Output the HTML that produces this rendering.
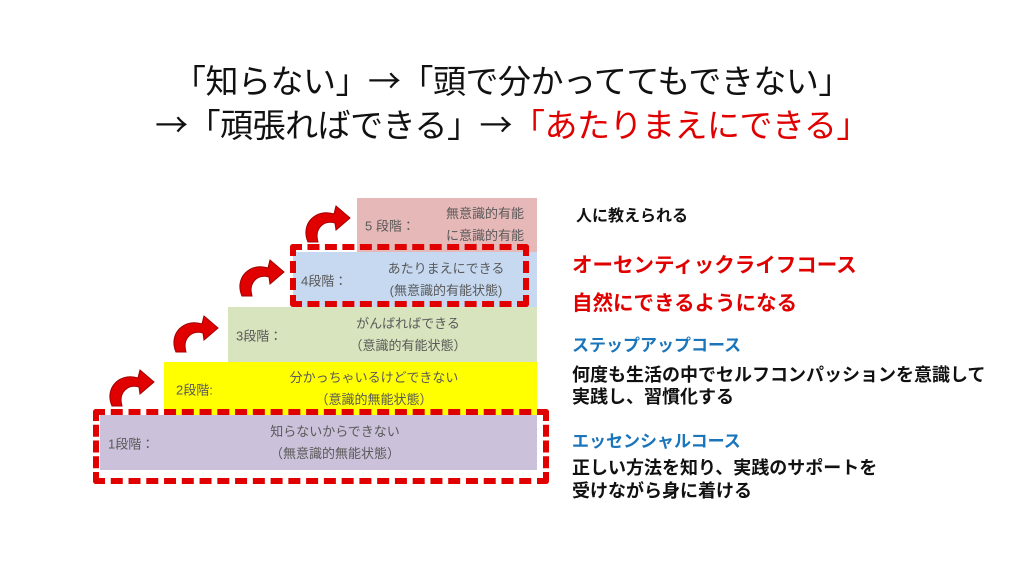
<!DOCTYPE html>
<html><head><meta charset="utf-8"><style>
body{margin:0;width:1024px;height:576px;background:#fff;position:relative;overflow:hidden;font-family:"Liberation Sans","Noto Sans CJK JP",sans-serif}
.a{position:absolute;white-space:nowrap}
.t{font-size:33px;color:#111;left:0;width:1024px;text-align:center;font-family:"Noto Sans CJK JP",sans-serif;letter-spacing:-0.5px}
.box{position:absolute;font-size:13px;color:#595959}
.box .l{position:absolute;top:50%;transform:translateY(-50%)}
.box .c{position:absolute;top:50%;transform:translateY(-50%);text-align:center;line-height:22px}
.d{position:absolute;border:6px dashed #e00000;box-sizing:border-box;border-radius:3px}
.r{font-weight:bold}
</style></head><body>
<div class="a t" style="top:55px">「知らない」→「頭で分かっててもできない」</div>
<div class="a t" style="top:99px">→「頑張ればできる」→<span style="color:#e00000">「あたりまえにできる」</span></div>

<div class="box" style="left:357px;top:198px;width:180px;height:54px;background:#e6b9b8"><span class="l" style="left:8px">5 段階：</span><span class="c" style="left:76px;width:104px">無意識的有能<br>に意識的有能</span></div>
<div class="box" style="left:293px;top:252px;width:244px;height:55px;background:#c6d9f1"><span class="l" style="left:8px">4段階：</span><span class="c" style="left:78px;width:150px">あたりまえにできる<br>(無意識的有能状態)</span></div>
<div class="box" style="left:228px;top:307px;width:309px;height:55px;background:#d7e4bd"><span class="l" style="left:8px">3段階：</span><span class="c" style="left:100px;width:160px">がんばればできる<br>（意識的有能状態）</span></div>
<div class="box" style="left:164px;top:362px;width:373px;height:53px;background:#ffff00"><span class="l" style="left:12px">2段階:</span><span class="c" style="left:105px;width:210px">分かっちゃいるけどできない<br>（意識的無能状態）</span></div>
<div class="box" style="left:100px;top:415px;width:437px;height:55px;background:#ccc1da"><span class="l" style="left:8px">1段階：</span><span class="c" style="left:150px;width:170px">知らないからできない<br>（無意識的無能状態）</span></div>

<div class="d" style="left:290px;top:244px;width:239px;height:63px"></div>
<div class="d" style="left:93px;top:409px;width:456px;height:75px"></div>

<svg width="1024" height="576" style="position:absolute;left:0;top:0">
<defs><path id="ar" d="M2,30 C-6,12 10,-4 28,2 L30,-6 L44,6 L30,18 L29,11 C18,8 8,16 12,30 Z" fill="#e00000" stroke="#a00000" stroke-width="1"/></defs>
<use href="#ar" x="306" y="212"/>
<use href="#ar" x="240" y="266"/>
<use href="#ar" x="174" y="322"/>
<use href="#ar" x="110" y="376"/>
</svg>

<div class="a r" style="left:576px;top:202px;font-size:16px;color:#111">人に教えられる</div>
<div class="a r" style="left:572px;top:248px;font-size:20.5px;color:#e00000">オーセンティックライフコース</div>
<div class="a r" style="left:572px;top:286px;font-size:20.5px;color:#e00000">自然にできるようになる</div>
<div class="a r" style="left:572px;top:331px;font-size:17px;color:#1a75bb">ステップアップコース</div>
<div class="a r" style="left:572px;top:364px;font-size:18px;color:#111;line-height:22px">何度も生活の中でセルフコンパッションを意識して<br>実践し、習慣化する</div>
<div class="a r" style="left:572px;top:427px;font-size:17px;color:#1a75bb">エッセンシャルコース</div>
<div class="a r" style="left:572px;top:457px;font-size:18px;color:#111;line-height:23px">正しい方法を知り、実践のサポートを<br>受けながら身に着ける</div>
</body></html>
